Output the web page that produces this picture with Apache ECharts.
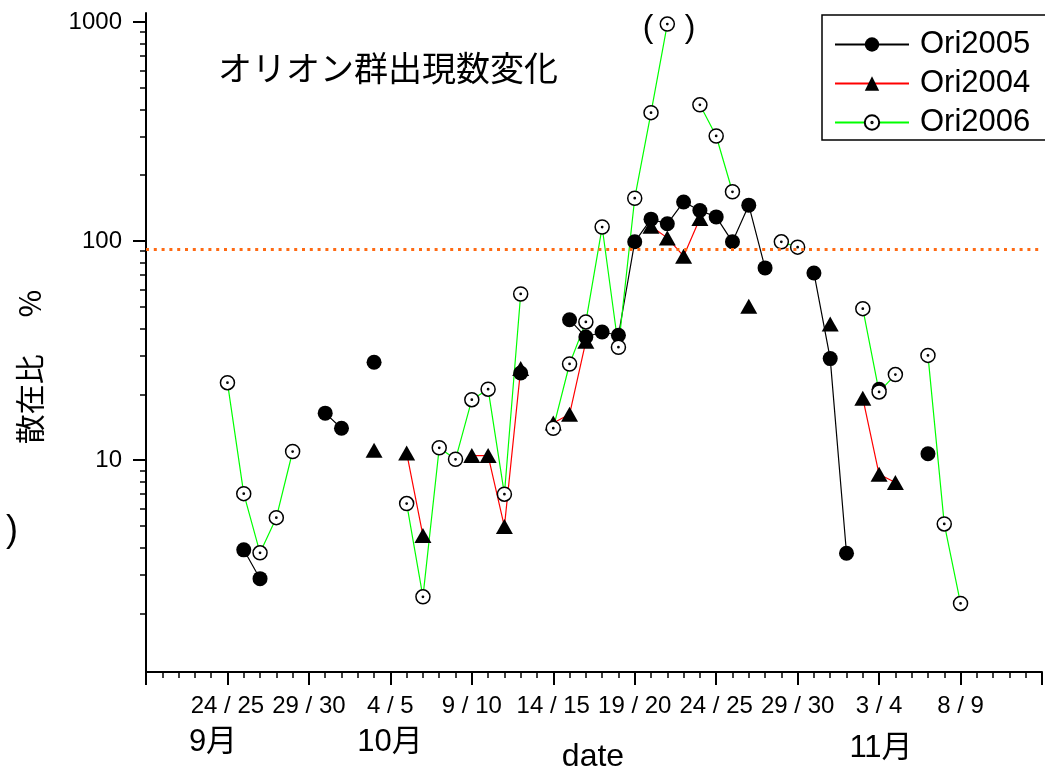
<!DOCTYPE html>
<html><head><meta charset="utf-8">
<script src="https://cdn.jsdelivr.net/npm/echarts@6/dist/echarts.min.js"></script>
<style>html,body{margin:0;padding:0;background:#fff}#c{width:1045px;height:769px}</style>
</head><body><div id="c"></div>
<script>
// x tick labels (every 5 days, day 5 .. day 50; day 0 = Sep 19/20)
const tickLabels = ['24 / 25','29 / 30','4 / 5','9 / 10','14 / 15','19 / 20','24 / 25','29 / 30','3 / 4','8 / 9'];
const monthLabels = ['9月','10月','11月'];
const yMajorTicks = [10, 100, 1000];
const yMinorTicks = [2,3,4,5,6,7,8,9,20,30,40,50,60,70,80,90,200,300,400,500,600,700,800,900];

const ori2005Days = [6,7,11,12,14,23,26,27,28,29,30,31,32,33,34,35,36,37,38,41,42,43,45,48];
const ori2005Vals = [3.9,2.88,16.4,14.0,28.0,25.0,43.8,36.5,38.5,37.2,99.3,126,120,151,138,129,99.3,146,75.5,71.6,29.1,3.76,21.1,10.7];

const ori2004Days = [14,16,17,20,21,22,23,25,26,27,31,32,33,34,37,42,44,45,46];
const ori2004Vals = [11.1,10.8,4.53,10.5,10.5,4.98,26.2,14.8,16.2,34.9,117,103.5,85.4,127,50.4,41.9,19.2,8.63,7.91];

const ori2006Days = [5,6,7,8,9,16,17,18,19,20,21,22,23,25,26,27,28,29,30,31,32,34,35,36,39,40,44,45,46,48,49,50];
const ori2006Vals = [22.6,7.04,3.78,5.47,10.96,6.34,2.38,11.4,10.1,18.9,21.1,7.0,57.4,14.0,27.5,42.8,116,32.8,157,386,979,419,302,168,99.3,93.9,49.2,20.5,24.6,30.1,5.12,2.22];

const refLevel = 91.6;

function build(days, vals) {
  const out = [];
  days.forEach((d, i) => {
    if (i > 0 && d !== days[i - 1] + 1) out.push([(d + days[i - 1]) / 2, null]);
    out.push([d, vals[i]]);
  });
  return out;
}

const LATIN = "'Liberation Sans', Arial, 'Noto Sans CJK JP', sans-serif";
const CJK = "'Noto Sans CJK JP', 'Liberation Sans', sans-serif";
const openCircle = 'path://M10,0A10,10 0 1 1 -10,0A10,10 0 1 1 10,0Z M0.9,0A0.9,0.9 0 1 1 -0.9,0A0.9,0.9 0 1 1 0.9,0Z';

const chart = echarts.init(document.getElementById('c'), null, {renderer: 'canvas'});
chart.setOption({
  animation: false,
  backgroundColor: '#fff',
  grid: {left: 146, right: 3, top: 13, bottom: 97, containLabel: false, outerBoundsMode: 'none'},
  legend: {
    orient: 'vertical', left: 822, top: 15, padding: [14, 40, 2, 12],
    itemGap: 8, itemWidth: 74, itemHeight: 18,
    borderColor: '#000', borderWidth: 1.5, borderRadius: 0, backgroundColor: '#fff',
    selectedMode: false,
    textStyle: {fontSize: 31, color: '#000', fontFamily: LATIN, padding: [0, 0, 0, 6]},
    data: ['Ori2005', 'Ori2004', 'Ori2006']
  },
  xAxis: {
    type: 'value', min: 0, max: 55, interval: 5,
    axisLine: {show: true, onZero: false, lineStyle: {color: '#000', width: 2}},
    axisTick: {show: true, length: 13, lineStyle: {color: '#000', width: 2}},
    minorTick: {show: true, splitNumber: 5, length: 6, lineStyle: {color: '#000', width: 1.5}},
    splitLine: {show: false}, minorSplitLine: {show: false},
    axisLabel: {
      margin: 22, fontSize: 24, color: '#000', fontFamily: LATIN,
      formatter: v => { const i = Math.round(v / 5) - 1; return (i >= 0 && i < tickLabels.length) ? tickLabels[i] : ''; }
    }
  },
  yAxis: [{
    type: 'log', logBase: 10, min: 1.08, max: 1100,
    axisLine: {show: true, onZero: false, lineStyle: {color: '#000', width: 2}},
    axisTick: {show: true, length: 13, customValues: yMajorTicks, lineStyle: {color: '#000', width: 2}},
    axisLabel: {customValues: yMajorTicks, margin: 24, fontSize: 24, color: '#000', fontFamily: LATIN,
      formatter: v => String(Math.round(v))},
    splitLine: {show: false}, minorTick: {show: false}
  }, {
    type: 'log', logBase: 10, min: 1.08, max: 1100, position: 'left', offset: 0,
    axisLine: {show: false},
    axisTick: {show: true, length: 6, customValues: yMinorTicks, lineStyle: {color: '#000', width: 1.5}},
    axisLabel: {show: false},
    splitLine: {show: false}
  }],
  graphic: [
    {type: 'text', x: 218, y: 68, style: {text: 'オリオン群出現数変化', fontSize: 34, fontFamily: CJK, fill: '#000', textVerticalAlign: 'middle'}},
    {type: 'text', x: 648, y: 28, style: {text: '(', fontSize: 32, fontFamily: LATIN, fill: '#000', textAlign: 'center', textVerticalAlign: 'middle'}},
    {type: 'text', x: 690, y: 28, style: {text: ')', fontSize: 32, fontFamily: LATIN, fill: '#000', textAlign: 'center', textVerticalAlign: 'middle'}},
    {type: 'text', x: 213, y: 742, style: {text: monthLabels[0], fontSize: 31, fontFamily: LATIN, fill: '#000', textAlign: 'center', textVerticalAlign: 'middle'}},
    {type: 'text', x: 390, y: 742, style: {text: monthLabels[1], fontSize: 31, fontFamily: LATIN, fill: '#000', textAlign: 'center', textVerticalAlign: 'middle'}},
    {type: 'text', x: 881, y: 748, style: {text: monthLabels[2], fontSize: 31, fontFamily: LATIN, fill: '#000', textAlign: 'center', textVerticalAlign: 'middle'}},
    {type: 'text', x: 593, y: 757, style: {text: 'date', fontSize: 32, fontFamily: LATIN, fill: '#000', textAlign: 'center', textVerticalAlign: 'middle'}},
    {type: 'text', x: 12, y: 531, style: {text: ')', fontSize: 36, fontFamily: LATIN, fill: '#000', textAlign: 'center', textVerticalAlign: 'middle'}},
    {type: 'text', x: 30, y: 367, rotation: Math.PI / 2, style: {text: '散在比　 %', fontSize: 30, fontFamily: CJK, fill: '#000', textAlign: 'center', textVerticalAlign: 'middle'}}
  ],
  series: [{
    name: 'Ori2005', type: 'line', data: build(ori2005Days, ori2005Vals), connectNulls: false,
    symbol: 'circle', symbolSize: 15, showSymbol: true,
    itemStyle: {color: '#000'}, lineStyle: {color: '#000', width: 1.2},
    emphasis: {disabled: true}
  }, {
    name: 'Ori2004', type: 'line', data: build(ori2004Days, ori2004Vals), connectNulls: false,
    symbol: 'triangle', symbolSize: [17, 15], showSymbol: true,
    itemStyle: {color: '#000'}, lineStyle: {color: '#ff0000', width: 1.2},
    emphasis: {disabled: true}
  }, {
    name: 'Ori2006', type: 'line', data: build(ori2006Days, ori2006Vals), connectNulls: false,
    symbol: openCircle, symbolSize: 14, showSymbol: true,
    itemStyle: {color: '#fff', borderColor: '#000', borderWidth: 1.5}, lineStyle: {color: '#00ff00', width: 1.2},
    emphasis: {disabled: true},
    markLine: {
      silent: true, symbol: 'none', label: {show: false}, animation: false,
      lineStyle: {color: '#ff6a13', type: [3, 4.8], width: 3},
      emphasis: {disabled: true},
      data: [{yAxis: refLevel}]
    }
  }]
});
</script></body></html>
